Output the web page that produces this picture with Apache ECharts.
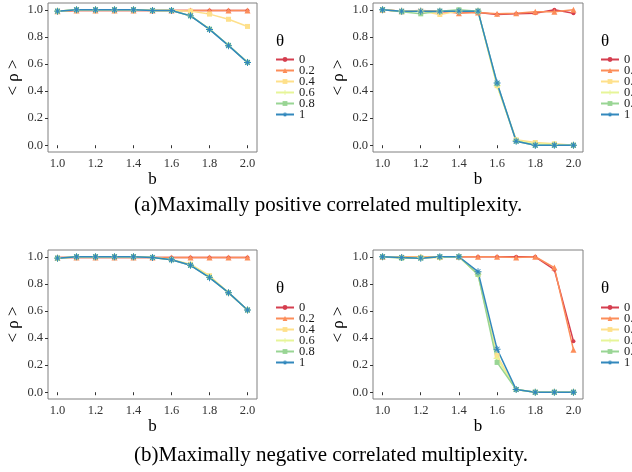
<!DOCTYPE html>
<html>
<head>
<meta charset="utf-8">
<script src="https://cdn.jsdelivr.net/npm/echarts@6/dist/echarts.min.js"></script>
<style>html,body{margin:0;padding:0;background:#fff;}#c{width:632px;height:472px;}</style>
</head>
<body>
<div id="c"></div>
<script>
const bValues = [1.0, 1.1, 1.2, 1.3, 1.4, 1.5, 1.6, 1.7, 1.8, 1.9, 2.0];
const thetaNames = ['0', '0.2', '0.4', '0.6', '0.8', '1'];
const xTicks = [1.0, 1.2, 1.4, 1.6, 1.8, 2.0];
const yTicks = [0.0, 0.2, 0.4, 0.6, 0.8, 1.0];
const captionA = '(a)Maximally positive correlated multiplexity.';
const captionB = '(b)Maximally negative correlated multiplexity.';

// Panel (a) left
const posLeft0  = [0.99, 0.995, 0.995, 0.995, 0.995, 0.995, 0.995, 0.995, 0.995, 0.995, 0.995];
const posLeft02 = [0.99, 0.995, 0.995, 0.995, 0.995, 0.995, 0.995, 0.995, 0.995, 0.995, 0.995];
const posLeft04 = [0.99, 1.0, 1.0, 1.0, 1.0, 0.995, 0.995, 0.99, 0.968, 0.93, 0.877];
const posLeft06 = [0.99, 1.0, 1.0, 1.0, 1.0, 0.995, 0.995, 0.956, 0.857, 0.738, 0.612];
const posLeft08 = [0.99, 1.0, 1.0, 1.0, 1.0, 0.995, 0.995, 0.956, 0.857, 0.738, 0.612];
const posLeft1  = [0.99, 1.0, 1.0, 1.0, 1.0, 0.995, 0.995, 0.955, 0.855, 0.735, 0.61];
// Panel (a) right
const posRight0  = [1.0, 0.99, 0.99, 0.985, 0.985, 0.98, 0.965, 0.97, 0.975, 1.0, 0.975];
const posRight02 = [1.0, 0.99, 0.995, 0.99, 0.975, 0.98, 0.97, 0.975, 0.985, 0.985, 1.0];
const posRight04 = [1.0, 0.99, 0.99, 0.965, 0.99, 0.99, 0.44, 0.04, 0.02, 0.01, 0.0];
const posRight06 = [1.0, 0.99, 0.99, 0.99, 0.99, 0.99, 0.44, 0.035, 0.01, 0.005, 0.0];
const posRight08 = [1.0, 0.985, 0.97, 0.99, 1.0, 0.99, 0.455, 0.03, 0.0, 0.0, 0.0];
const posRight1  = [1.0, 0.99, 0.99, 0.99, 0.99, 0.99, 0.46, 0.03, 0.0, 0.0, 0.0];
// Panel (b) left
const negLeft0  = [0.995, 0.995, 0.995, 0.995, 0.995, 0.995, 0.995, 0.995, 0.995, 0.995, 0.995];
const negLeft02 = [0.995, 0.995, 0.995, 0.995, 0.995, 0.995, 0.995, 0.995, 0.995, 0.995, 0.995];
const negLeft04 = [0.99, 1.0, 1.0, 1.0, 1.0, 0.995, 0.98, 0.945, 0.86, 0.735, 0.607];
const negLeft06 = [0.99, 1.0, 1.0, 1.0, 1.0, 0.995, 0.978, 0.94, 0.852, 0.735, 0.607];
const negLeft08 = [0.99, 1.0, 1.0, 1.0, 1.0, 0.995, 0.978, 0.937, 0.848, 0.735, 0.607];
const negLeft1  = [0.99, 1.0, 1.0, 1.0, 1.0, 0.995, 0.978, 0.937, 0.846, 0.735, 0.607];
// Panel (b) right
const negRight0  = [1.0, 1.0, 1.0, 1.0, 1.0, 1.0, 1.0, 1.0, 1.0, 0.905, 0.377];
const negRight02 = [1.0, 1.0, 1.0, 1.0, 1.0, 1.0, 1.0, 0.995, 1.0, 0.92, 0.314];
const negRight04 = [1.0, 0.995, 0.995, 0.995, 1.0, 0.87, 0.27, 0.02, 0.0, 0.0, 0.0];
const negRight06 = [1.0, 0.995, 0.995, 0.995, 1.0, 0.87, 0.25, 0.02, 0.0, 0.0, 0.0];
const negRight08 = [1.0, 0.99, 0.99, 1.0, 1.0, 0.87, 0.22, 0.02, 0.0, 0.0, 0.0];
const negRight1  = [1.0, 0.995, 0.99, 1.0, 1.0, 0.89, 0.318, 0.02, 0.0, 0.0, 0.0];

const panels = [
  [posLeft0, posLeft02, posLeft04, posLeft06, posLeft08, posLeft1],
  [posRight0, posRight02, posRight04, posRight06, posRight08, posRight1],
  [negLeft0, negLeft02, negLeft04, negLeft06, negLeft08, negLeft1],
  [negRight0, negRight02, negRight04, negRight06, negRight08, negRight1]
];

const colors = ['#d53e4f', '#fc8d59', '#fee08b', '#e6f598', '#99d594', '#3288bd'];
const asterisk = 'path://M-0.7,-5L0.7,-5L0.7,5L-0.7,5Z M-5,-0.7L5,-0.7L5,0.7L-5,0.7Z M-3.9,-3.0L-3.0,-3.9L3.9,3.0L3.0,3.9Z M3.0,-3.9L3.9,-3.0L-3.0,3.9L-3.9,3.0Z';
const plus = 'path://M-0.8,-5L0.8,-5L0.8,-0.8L5,-0.8L5,0.8L0.8,0.8L0.8,5L-0.8,5L-0.8,0.8L-5,0.8L-5,-0.8L-0.8,-0.8Z';
const symbols = ['circle', 'triangle', 'rect', plus, 'rect', asterisk];
const symSizes = [4, 6, 5, 7, 5, 7];

const FONT = 'Liberation Serif';
const gridsPos = [
  {left: 48, top: 3, width: 209, height: 149},
  {left: 373, top: 3, width: 210, height: 149},
  {left: 48, top: 250, width: 209, height: 149},
  {left: 373, top: 250, width: 210, height: 149}
];
const legendPos = [
  {left: 275, top: 53},
  {left: 600, top: 53},
  {left: 275, top: 301},
  {left: 600, top: 301}
];
const thetaPos = [
  {left: 276, top: 33},
  {left: 601, top: 33},
  {left: 276, top: 280},
  {left: 601, top: 280}
];

const grid = gridsPos.map(g => Object.assign({show: true, borderColor: '#808080', borderWidth: 1, backgroundColor: '#fff'}, g));
const xAxis = gridsPos.map((g, i) => ({
  type: 'value', gridIndex: i, min: 0.95, max: 2.05,
  name: 'b', nameLocation: 'middle', nameGap: 19,
  nameTextStyle: {fontFamily: FONT, fontSize: 17, color: '#000'},
  axisLine: {show: false},
  splitLine: {show: false},
  axisTick: {show: true, length: 3, lineStyle: {color: '#333'}, customValues: xTicks},
  axisLabel: {fontFamily: FONT, fontSize: 12.5, color: '#333', margin: 5, customValues: xTicks,
    formatter: v => v.toFixed(1)}
}));
const yAxis = gridsPos.map((g, i) => ({
  type: 'value', gridIndex: i, min: -0.05, max: 1.05,
  name: '< ρ >', nameLocation: 'middle', nameGap: 26,
  nameTextStyle: {fontFamily: FONT, fontSize: 17, color: '#000'},
  axisLine: {show: false},
  splitLine: {show: false},
  axisTick: {show: true, length: 3, lineStyle: {color: '#333'}, customValues: yTicks},
  axisLabel: {fontFamily: FONT, fontSize: 12.5, color: '#333', margin: 5, customValues: yTicks,
    formatter: v => v.toFixed(1)}
}));

const series = [];
panels.forEach((panel, p) => {
  panel.forEach((vals, k) => {
    series.push({
      type: 'line', name: thetaNames[k], xAxisIndex: p, yAxisIndex: p,
      data: bValues.map((b, j) => [b, vals[j]]),
      symbol: symbols[k], symbolSize: symSizes[k], showSymbol: true,
      lineStyle: {color: colors[k], width: 1.5},
      itemStyle: {color: colors[k]},
      animation: false
    });
  });
});

const legend = legendPos.map(lp => ({
  left: lp.left, top: lp.top, orient: 'vertical',
  data: thetaNames, itemWidth: 18, itemHeight: 6, itemGap: -2,
  textStyle: {fontFamily: FONT, fontSize: 12.5, lineHeight: 11, color: '#1a1a1a', padding: 0},
  padding: 0, selectedMode: false
}));

const title = thetaPos.map(tp => ({
  text: 'θ', left: tp.left, top: tp.top, padding: 0,
  textStyle: {fontFamily: FONT, fontSize: 17, fontWeight: 'normal', color: '#000'}
})).concat([
  {text: captionA, left: 134, top: 195, padding: 0,
   textStyle: {fontFamily: FONT, fontSize: 21, fontWeight: 'normal', color: '#000'}},
  {text: captionB, left: 134, top: 445, padding: 0,
   textStyle: {fontFamily: FONT, fontSize: 21, fontWeight: 'normal', color: '#000'}}
]);

const chart = echarts.init(document.getElementById('c'));
chart.setOption({
  backgroundColor: '#fff',
  animation: false,
  title, grid, xAxis, yAxis, legend, series
});
</script>
</body>
</html>
